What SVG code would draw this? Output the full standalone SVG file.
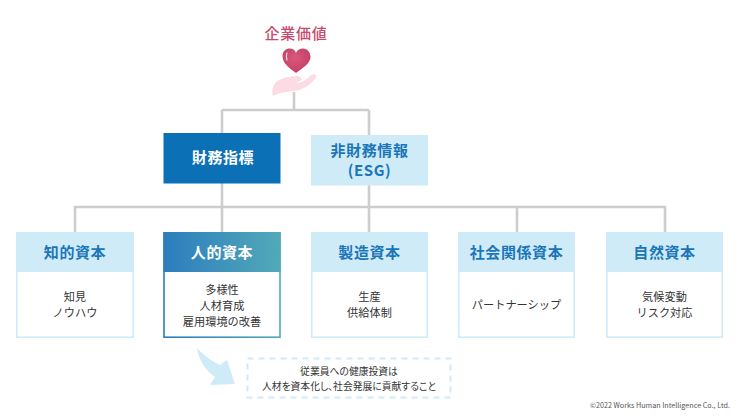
<svg xmlns="http://www.w3.org/2000/svg" width="740" height="417" viewBox="0 0 740 417">
<style>
text{font-family:"Noto Sans CJK JP","Noto Sans",sans-serif;text-anchor:middle}
.title{font-size:15px;font-weight:700;letter-spacing:.6px}
.blue{fill:#1b76b8}
.white{fill:#fff}
.body{font-size:11.2px;fill:#333}
.small{font-size:9.800px;fill:#333;font-feature-settings:"palt"}
.line{fill:none;stroke:#cdcdcd;stroke-width:2.600}
.head{fill:#cfebf8}
.frame{fill:#fff;stroke:#cfebf8;stroke-width:1.600}
</style>
<defs>
<linearGradient id="accent" x1="0" x2="1" y1="0" y2="0"><stop offset="0" stop-color="#2c7dbd"/><stop offset="1" stop-color="#52a9b8"/></linearGradient>
<radialGradient id="heart" cx=".45" cy=".4" r=".7"><stop offset="0" stop-color="#d9597c"/><stop offset="1" stop-color="#bf3c62"/></radialGradient>
</defs>
<rect width="740" height="417" fill="#fff"/>
<g id="connectors">
<path class="line" d="M294 92V110M222 110H369M222 110V133M369 110V135M222 183V207M369 185V207M75 232V207H665V232M222 207V232M369 207V232M517 207V232"/>
</g>
<g id="value">
<text x="296" y="39" font-size="15" font-weight="500" letter-spacing=".7" fill="#c84a6c">企業価値</text>
<path d="M273 96C271 90 273 83 279 80C285 77 291 76 297 76C301 76 303 79 300 81L296 83C302 83 306 80 311 75C315 73 318 76 315 79C310 85 303 90 294 91C287 92 280 92 273 96Z" fill="#fbdce4"/>
<path d="M296 73C289 68 282.500 63 282.500 56C282.500 51 286 48.500 290 48.500C293 48.500 295 50 296 53C297 50 299.500 48.500 303 48.500C307 48.500 310.500 52 310.500 57C310.500 63 303 68 296 73Z" fill="url(#heart)"/>
<path d="M287 53C286 55 286 57 287 60" fill="none" stroke="#f7d7df" stroke-width="1.200" stroke-linecap="round"/>
</g>
<g id="financial">
<rect x="163.500" y="133" width="117" height="50.500" fill="#0b70b5"/>
<text class="title white" x="223" y="163">財務指標</text>
</g>
<g id="non-financial">
<rect x="311" y="135" width="117" height="50.500" fill="#cfebf8"/>
<text class="title blue" x="369.500" y="156">非財務情報</text>
<text class="title blue" x="369.500" y="176">(ESG)</text>
</g>
<g id="intellectual">
<rect class="frame" x="16.800" y="232.800" width="116.400" height="104.400"/>
<rect class="head" x="16" y="232" width="118" height="40"/>
<text class="title blue" x="75" y="258">知的資本</text>
<text class="body" x="75" y="301">知見</text>
<text class="body" x="75" y="317">ノウハウ</text>
</g>
<g id="human">
<rect x="164" y="232.800" width="116" height="104.400" fill="#fff" stroke="url(#accent)" stroke-width="1.600"/>
<rect x="163.500" y="232" width="117" height="40" fill="url(#accent)"/>
<text class="title white" x="222" y="258">人的資本</text>
<text class="body" x="222" y="294">多様性</text>
<text class="body" x="222" y="310">人材育成</text>
<text class="body" x="222" y="326">雇用環境の改善</text>
</g>
<g id="manufactured">
<rect class="frame" x="311.800" y="232.800" width="115.400" height="104.400"/>
<rect class="head" x="311" y="232" width="117" height="40"/>
<text class="title blue" x="369.500" y="258">製造資本</text>
<text class="body" x="369.500" y="301">生産</text>
<text class="body" x="369.500" y="317">供給体制</text>
</g>
<g id="social">
<rect class="frame" x="458.800" y="232.800" width="115.400" height="104.400"/>
<rect class="head" x="458" y="232" width="117" height="40"/>
<text class="title blue" x="516.500" y="258">社会関係資本</text>
<text class="body" x="516.500" y="309">パートナーシップ</text>
</g>
<g id="natural">
<rect class="frame" x="606.800" y="232.800" width="115.400" height="104.400"/>
<rect class="head" x="606" y="232" width="117" height="40"/>
<text class="title blue" x="664.500" y="258">自然資本</text>
<text class="body" x="664.500" y="301">気候変動</text>
<text class="body" x="664.500" y="317">リスク対応</text>
</g>
<g id="note">
<path d="M197 348C203 355 212 361 220 365L227 360L235 384L210 385L215 377C206 371 199 361 197 348Z" fill="#cfebf8"/>
<rect x="247.500" y="358.500" width="203" height="39" fill="none" stroke="#cfebf8" stroke-width="2" stroke-dasharray="6 5"/>
<text class="small" x="349" y="374.500">従業員への健康投資は</text>
<text class="small" x="349" y="389.500">人材を資本化し、社会発展に貢献すること</text>
</g>
<text x="730" y="408" font-size="7.200" fill="#555" style="text-anchor:end">©2022 Works Human Intelligence Co., Ltd.</text>
</svg>
